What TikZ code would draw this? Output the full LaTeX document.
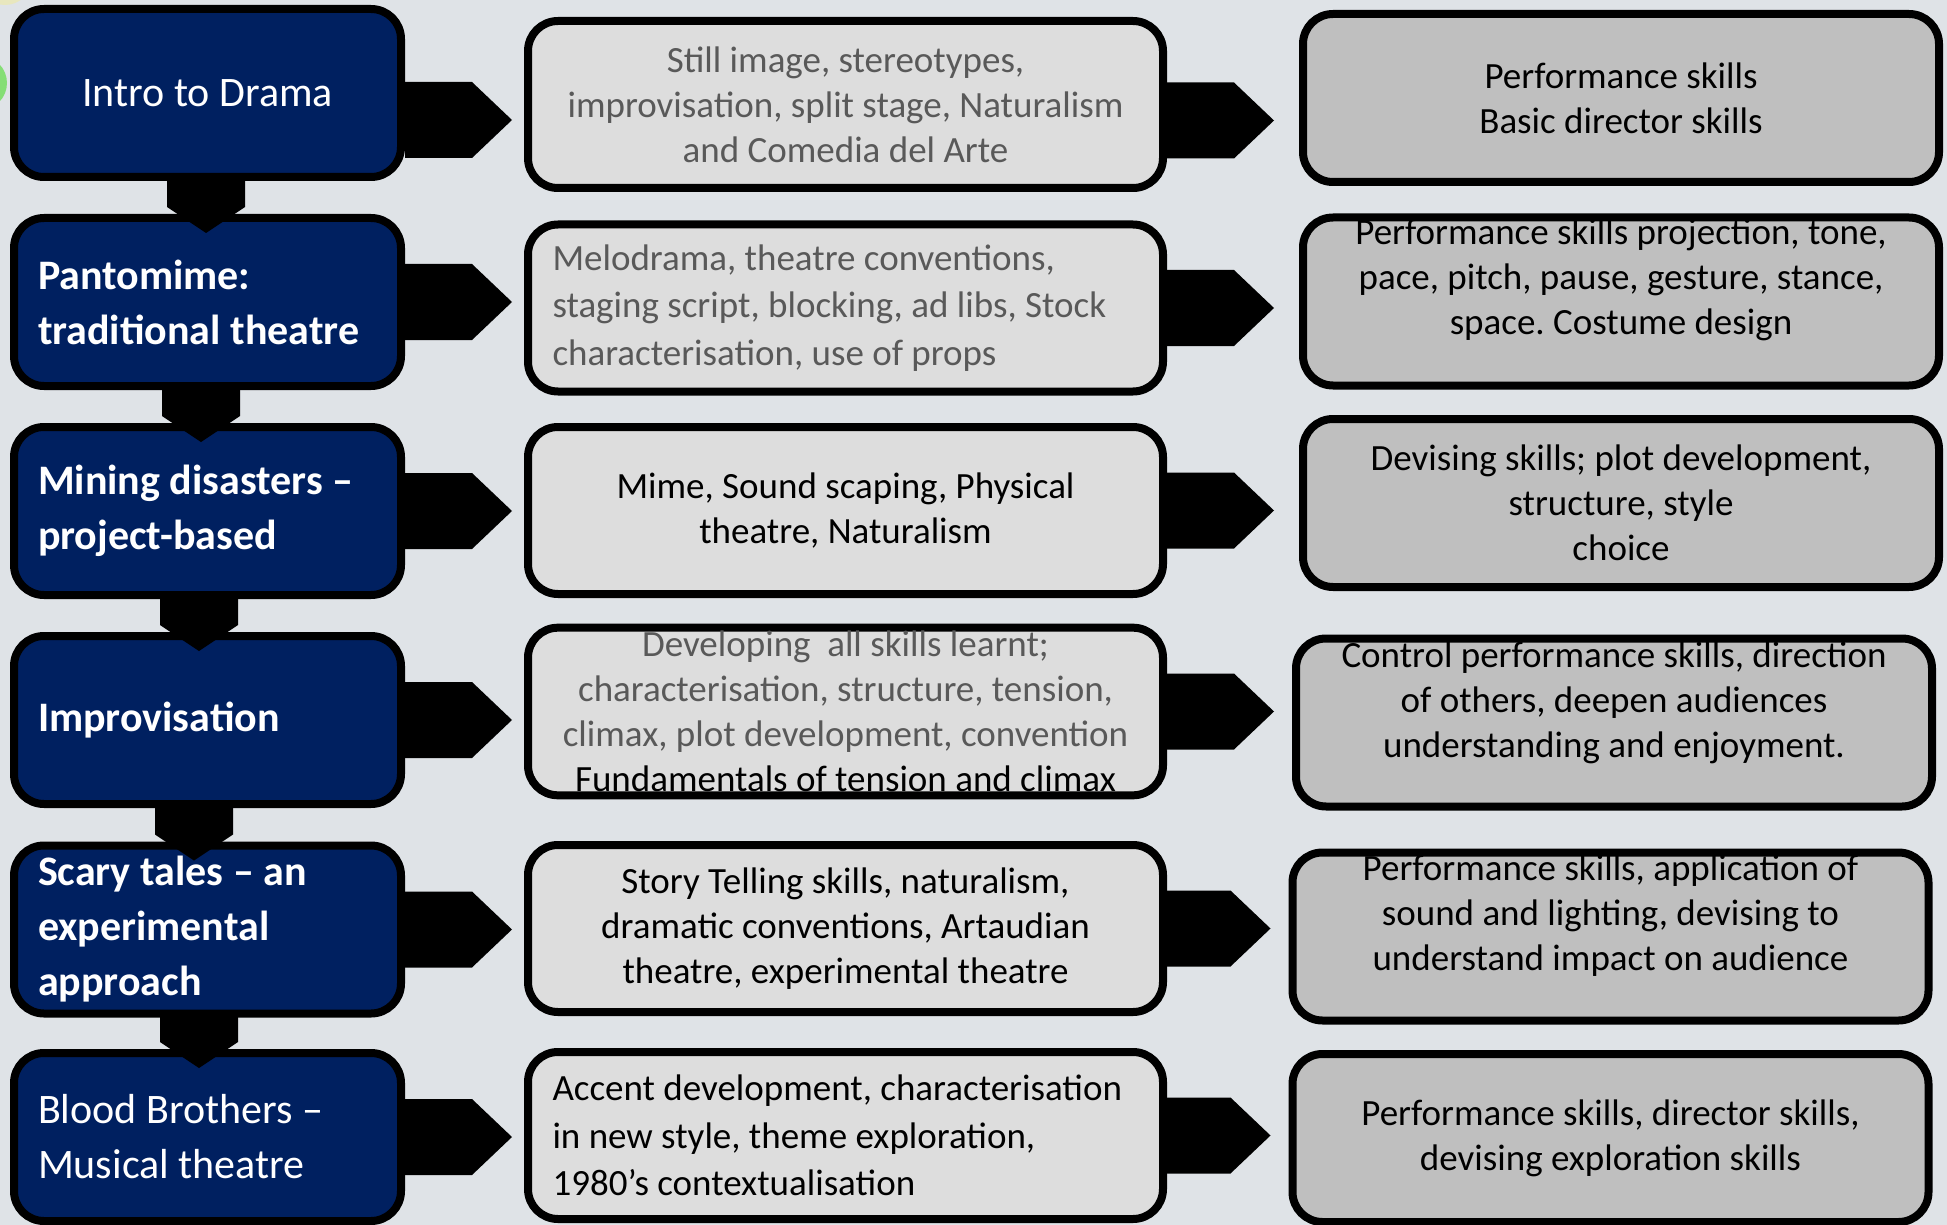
\documentclass[tikz,border=0pt]{standalone}
\usepackage{fontspec}
\setmainfont{Carlito}
\frenchspacing
\usetikzlibrary{calc}
\definecolor{navy}{RGB}{0,32,96}
\definecolor{backdrop}{RGB}{223,227,231}
\definecolor{lightbox}{RGB}{221,221,221}
\definecolor{darkbox}{RGB}{191,191,191}
\definecolor{greytext}{RGB}{89,89,89}
\tikzset{every picture/.style = {x=1pt, y=-1pt}}
\tikzset{topic/.style = {draw, line width=8pt, rounded corners=30pt, fill=navy, text=white, minimum width=387pt, minimum height=168pt, align=center, font=\fontsize{42}{55}\selectfont}}
\tikzset{heavy/.style = {align=flush left, text width=339pt, font=\fontsize{42}{55}\selectfont\bfseries}}
\tikzset{content/.style = {draw, line width=8pt, rounded corners=30pt, fill=lightbox, minimum width=635pt, minimum height=167pt, align=center, font=\fontsize{37}{45}\selectfont}}
\tikzset{flush/.style = {align=flush left, text width=586pt, font=\fontsize{37}{47.5}\selectfont}}
\tikzset{skills/.style = {draw, line width=8pt, rounded corners=30pt, fill=darkbox, minimum width=636pt, minimum height=168pt}}
\tikzset{words/.style = {align=center, font=\fontsize{37}{45}\selectfont}}
\tikzset{sidearrow/.style = {to path={let \p1=(\tikztostart), \p2=(\tikztotarget) in
  (\x1,\y1+38pt) -- (\x2-40pt,\y1+38pt) -- (\x2,\y1) -- (\x2-40pt,\y1-38pt) -- (\x1,\y1-38pt) -- cycle}}}
\tikzset{downarrow/.style = {to path={let \p1=(\tikztostart), \p2=(\tikztotarget) in
  (\x1-39pt,\y1+4pt) -- (\x1+39pt,\y1+4pt) -- (\x1+39pt,\y2+7pt) -- (\x1,\y2-19pt) -- (\x1-39pt,\y2+7pt) -- cycle}}}

\begin{document}
\begin{tikzpicture}
  \useasboundingbox (0,0) rectangle (1947,1225);
  \fill[backdrop] (0,0) rectangle (1947,1225);
  \fill[yellow!20!backdrop] (5,-22) circle (27);
  \fill[green!40!backdrop!85!olive] (-20,83) circle (27);

  % topics
  \node[topic] (l1) at (207.5,93) {Intro to Drama};
  \node[topic, heavy] (l2) at (207.5,302) {Pantomime:\\traditional theatre};
  \node[topic, heavy] (l3) at (207.5,511) {Mining disasters --\\project-based};
  \node[topic, heavy] (l4) at (207.5,720) {Improvisation};
  \node[topic, heavy] (l5) at (207.5,929.5) {Scary tales -- an\\experimental\\approach};
  \node[topic, align=flush left, text width=339pt] (l6) at (207.5,1137) {Blood Brothers --\\Musical theatre};

  % content
  \node[content, text=greytext] (m1) at (845.5,104.5)
    {Still image, stereotypes,\\improvisation, split stage, Naturalism\\and Comedia del Arte};
  \node[content, flush, text=greytext] (m2) at (845.5,308)
    {Melodrama, theatre conventions,\\staging script, blocking, ad libs, Stock\\characterisation, use of props};
  \node[content] (m3) at (845.5,510.5)
    {Mime, Sound scaping, Physical\\theatre, Naturalism};
  \node[content] (m4) at (845.5,711.5)
    {\textcolor{greytext}{Developing\ \ all skills learnt;}\\\textcolor{greytext}{characterisation, structure, tension,}\\\textcolor{greytext}{climax, plot development, convention}\\Fundamentals of tension and climax};
  \node[content] (m5) at (845.5,928.5)
    {Story Telling skills, naturalism,\\dramatic conventions, Artaudian\\theatre, experimental theatre};
  \node[content, flush] (m6) at (845.5,1135.5)
    {Accent development, characterisation\\in new style, theme exploration,\\1980’s contextualisation};

  % skills
  \node[skills] (r1) at (1621,98) {};
  \node[words] (t1) at (r1) {Performance skills\\Basic director skills};
  \node[skills] (r2) at (1621,301.5) {};
  \node[words] (t2) at ([yshift=22pt]r2.center) {Performance skills projection, tone,\\pace, pitch, pause, gesture, stance,\\space. Costume design};
  \node[skills] (r3) at (1621,503) {};
  \node[words] (t3) at (r3) {Devising skills; plot development,\\structure, style\\choice};
  \node[skills] (r4) at (1614,722.5) {};
  \node[words] (t4) at ([yshift=20pt]r4.center) {Control performance skills, direction\\of others, deepen audiences\\understanding and enjoyment.};
  \node[skills] (r5) at (1610.5,936.5) {};
  \node[words] (t5) at ([yshift=21pt]r5.center) {Performance skills, application of\\sound and lighting, devising to\\understand impact on audience};
  \node[skills] (r6) at (1610.5,1138) {};
  \node[words] (t6) at (r6) {Performance skills, director skills,\\devising exploration skills};

  % arrows
  \fill ([yshift=-27pt]l1.east) to[sidearrow] ([xshift=-12pt]m1.west);
  \fill (l2.east) to[sidearrow] ([xshift=-12pt]m2.west);
  \fill (l3.east) to[sidearrow] ([xshift=-12pt]m3.west);
  \fill (l4.east) to[sidearrow] ([xshift=-12pt]m4.west);
  \fill (l5.east) to[sidearrow] ([xshift=-12pt]m5.west);
  \fill (l6.east) to[sidearrow] ([xshift=-12pt]m6.west);
  \fill ([yshift=-16pt]m1.east) to[sidearrow] ([xshift=-25pt]r1.west);
  \fill (m2.east) to[sidearrow] ([xshift=-25pt]r2.west);
  \fill (m3.east) to[sidearrow] ([xshift=-25pt]r3.west);
  \fill (m4.east) to[sidearrow] ([xshift=-18pt]r4.west);
  \fill (m5.east) to[sidearrow] ([xshift=-18pt]r5.west);
  \fill (m6.east) to[sidearrow] ([xshift=-18pt]r6.west);
  \fill ([xshift=-1.5pt]l1.south) to[downarrow] (l2.north);
  \fill ([xshift=-6.5pt]l2.south) to[downarrow] (l3.north);
  \fill ([xshift=-8.5pt]l3.south) to[downarrow] (l4.north);
  \fill ([xshift=-13.5pt]l4.south) to[downarrow] (l5.north);
  \fill ([xshift=-8.5pt]l5.south) to[downarrow] (l6.north);
\end{tikzpicture}
\end{document}
